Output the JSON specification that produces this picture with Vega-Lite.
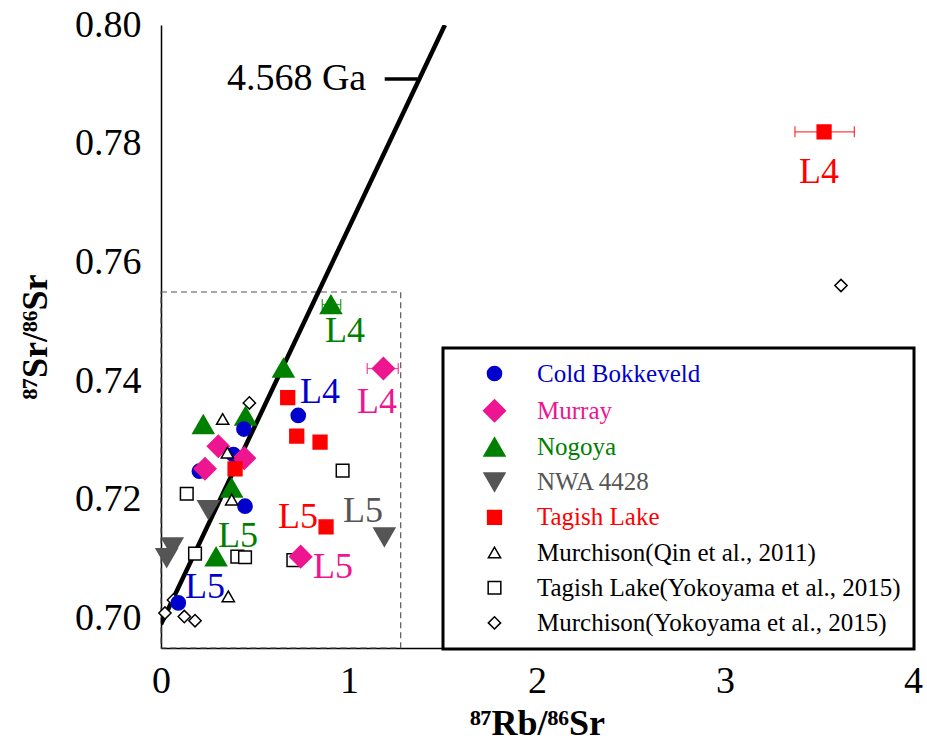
{
  "$schema": "https://vega.github.io/schema/vega-lite/v6.json",
  "width": 752,
  "height": 623,
  "autosize": {"type": "none"},
  "padding": {"left": 161, "top": 25, "right": 14, "bottom": 101},
  "background": "white",
  "config": {
    "view": {"stroke": null},
    "font": "Liberation Serif",
    "axis": {
      "grid": false,
      "domainColor": "black",
      "domainWidth": 1.5,
      "tickColor": "black",
      "tickWidth": 1.2,
      "tickSize": 0,
      "labelFont": "Liberation Serif",
      "labelFontSize": 38,
      "labelColor": "black",
      "labelFlush": false,
      "labelOverlap": false,
      "titleFont": "Liberation Serif",
      "titleFontWeight": "bold",
      "titleColor": "black",
      "titleFontSize": 36
    },
    "legend": {
      "strokeColor": "black",
      "strokeWidth": 3,
      "fillColor": "white",
      "padding": 13,
      "labelFont": "Liberation Serif",
      "labelFontSize": 25,
      "labelLimit": 600,
      "symbolStrokeWidth": 1.5,
      "symbolOpacity": 1,
      "rowPadding": 9.2,
      "labelColor": {"expr": "datum.value === 'Cold Bokkeveld' ? '#0000cc' : datum.value === 'Murray' ? '#ee1590' : datum.value === 'Nogoya' ? '#008000' : datum.value === 'NWA 4428' ? '#555555' : datum.value === 'Tagish Lake' ? '#ff0000' : '#000000'"}
    }
  },
  "datasets": {
    "points": [
      {"sample": "Murchison(Yokoyama et al., 2015)", "x": 0.470, "y": 0.7363},
      {"sample": "Murchison(Yokoyama et al., 2015)", "x": 0.066, "y": 0.7031},
      {"sample": "Murchison(Yokoyama et al., 2015)", "x": 0.021, "y": 0.7009},
      {"sample": "Murchison(Yokoyama et al., 2015)", "x": 0.124, "y": 0.7003},
      {"sample": "Murchison(Yokoyama et al., 2015)", "x": 0.181, "y": 0.6996},
      {"sample": "Murchison(Yokoyama et al., 2015)", "x": 3.617, "y": 0.7561},
      {"sample": "Tagish Lake(Yokoyama et al., 2015)", "x": 0.137, "y": 0.7210},
      {"sample": "Tagish Lake(Yokoyama et al., 2015)", "x": 0.181, "y": 0.7109},
      {"sample": "Tagish Lake(Yokoyama et al., 2015)", "x": 0.406, "y": 0.7104},
      {"sample": "Tagish Lake(Yokoyama et al., 2015)", "x": 0.447, "y": 0.7103},
      {"sample": "Tagish Lake(Yokoyama et al., 2015)", "x": 0.704, "y": 0.7098},
      {"sample": "Tagish Lake(Yokoyama et al., 2015)", "x": 0.966, "y": 0.7249},
      {"sample": "NWA 4428", "x": 0.252, "y": 0.7183},
      {"sample": "NWA 4428", "x": 0.060, "y": 0.7120},
      {"sample": "NWA 4428", "x": 0.030, "y": 0.7102},
      {"sample": "NWA 4428", "x": 1.188, "y": 0.7137},
      {"sample": "Nogoya", "x": 0.225, "y": 0.7327},
      {"sample": "Nogoya", "x": 0.450, "y": 0.7341},
      {"sample": "Nogoya", "x": 0.651, "y": 0.7422},
      {"sample": "Nogoya", "x": 0.376, "y": 0.7220},
      {"sample": "Nogoya", "x": 0.293, "y": 0.7104},
      {"sample": "Nogoya", "x": 0.904, "y": 0.7529},
      {"sample": "Cold Bokkeveld", "x": 0.204, "y": 0.7248},
      {"sample": "Cold Bokkeveld", "x": 0.385, "y": 0.7276},
      {"sample": "Cold Bokkeveld", "x": 0.441, "y": 0.7319},
      {"sample": "Cold Bokkeveld", "x": 0.447, "y": 0.7189},
      {"sample": "Cold Bokkeveld", "x": 0.730, "y": 0.7342},
      {"sample": "Cold Bokkeveld", "x": 0.092, "y": 0.7026},
      {"sample": "Murray", "x": 0.305, "y": 0.7290},
      {"sample": "Murray", "x": 0.234, "y": 0.7252},
      {"sample": "Murray", "x": 0.443, "y": 0.7270},
      {"sample": "Murray", "x": 0.743, "y": 0.7104},
      {"sample": "Murray", "x": 1.183, "y": 0.7421},
      {"sample": "Tagish Lake", "x": 0.394, "y": 0.7252},
      {"sample": "Tagish Lake", "x": 0.674, "y": 0.7372},
      {"sample": "Tagish Lake", "x": 0.722, "y": 0.7307},
      {"sample": "Tagish Lake", "x": 0.846, "y": 0.7297},
      {"sample": "Tagish Lake", "x": 0.878, "y": 0.7154},
      {"sample": "Tagish Lake", "x": 3.527, "y": 0.7820},
      {"sample": "Murchison(Qin et al., 2011)", "x": 0.328, "y": 0.7336},
      {"sample": "Murchison(Qin et al., 2011)", "x": 0.353, "y": 0.7279},
      {"sample": "Murchison(Qin et al., 2011)", "x": 0.376, "y": 0.7200},
      {"sample": "Murchison(Qin et al., 2011)", "x": 0.358, "y": 0.7037}
    ],
    "errs": [
      {"sample": "Nogoya", "xlo": 0.858, "xhi": 0.956, "y": 0.7529},
      {"sample": "Murray", "xlo": 1.097, "xhi": 1.262, "y": 0.7421},
      {"sample": "Tagish Lake", "xlo": 3.372, "xhi": 3.688, "y": 0.7820}
    ],
    "labels": [
      {"sample": "Nogoya", "text": "L4", "x": 0.979, "y": 0.7484},
      {"sample": "Cold Bokkeveld", "text": "L4", "x": 0.846, "y": 0.7381},
      {"sample": "Murray", "text": "L4", "x": 1.149, "y": 0.7364},
      {"sample": "Tagish Lake", "text": "L4", "x": 3.500, "y": 0.7752},
      {"sample": "NWA 4428", "text": "L5", "x": 1.074, "y": 0.7181},
      {"sample": "Tagish Lake", "text": "L5", "x": 0.729, "y": 0.7171},
      {"sample": "Murray", "text": "L5", "x": 0.915, "y": 0.7087},
      {"sample": "Nogoya", "text": "L5", "x": 0.410, "y": 0.7138},
      {"sample": "Cold Bokkeveld", "text": "L5", "x": 0.234, "y": 0.7053}
    ],
    "iso": [
      {"x": 0, "y": 0.6990},
      {"x": 1.51, "y": 0.8000}
    ],
    "tag": [
      {"x": 1.19, "x2": 1.365, "y": 0.7909, "text": "4.568 Ga", "tx": 0.721}
    ],
    "box": [
      {"x": 0, "x2": 1.275, "y": 0.695, "y2": 0.755}
    ]
  },
  "layer": [
    {
      "data": {"name": "box"},
      "mark": {"type": "rect", "filled": false, "stroke": "#555555", "strokeWidth": 1.2, "strokeDash": [6, 4]},
      "encoding": {
        "x": {
          "field": "x", "type": "quantitative",
          "scale": {"domain": [0, 4], "nice": false, "zero": false},
          "title": "⁸⁷Rb/⁸⁶Sr",
          "axis": {
            "values": [0, 0.5, 1, 1.5, 2, 2.5, 3, 3.5, 4],
            "labelExpr": "datum.value % 1 == 0 ? format(datum.value, 'd') : ''",
            "labelPadding": 14,
            "titlePadding": 6,
            "encode": {"ticks": {"update": {"y2": {"signal": "datum.value % 1 == 0 ? -10 : -5"}}}}
          }
        },
        "x2": {"field": "x2"},
        "y": {
          "field": "y", "type": "quantitative",
          "scale": {"domain": [0.695, 0.8], "nice": false, "zero": false},
          "title": "⁸⁷Sr/⁸⁶Sr",
          "axis": {
            "values": [0.70, 0.71, 0.72, 0.73, 0.74, 0.75, 0.76, 0.77, 0.78, 0.79, 0.80],
            "labelExpr": "round(datum.value * 100) % 2 == 0 ? format(datum.value, '.2f') : ''",
            "labelPadding": 20,
            "titlePadding": 20,
            "encode": {"ticks": {"update": {"x2": {"signal": "round(datum.value * 100) % 2 == 0 ? 10 : 5"}}}}
          }
        },
        "y2": {"field": "y2"}
      }
    },
    {
      "data": {"name": "iso"},
      "mark": {"type": "line", "color": "black", "strokeWidth": 4.5, "clip": true},
      "encoding": {
        "x": {"field": "x", "type": "quantitative", "title": "⁸⁷Rb/⁸⁶Sr"},
        "y": {"field": "y", "type": "quantitative", "title": "⁸⁷Sr/⁸⁶Sr"}
      }
    },
    {
      "data": {"name": "tag"},
      "mark": {"type": "rule", "color": "black", "strokeWidth": 3.5},
      "encoding": {
        "x": {"field": "x", "type": "quantitative", "title": "⁸⁷Rb/⁸⁶Sr"},
        "x2": {"field": "x2"},
        "y": {"field": "y", "type": "quantitative", "title": "⁸⁷Sr/⁸⁶Sr"}
      }
    },
    {
      "data": {"name": "tag"},
      "mark": {"type": "text", "color": "black", "fontSize": 38, "font": "Liberation Serif", "align": "center", "baseline": "middle"},
      "encoding": {
        "x": {"field": "tx", "type": "quantitative", "title": "⁸⁷Rb/⁸⁶Sr"},
        "y": {"field": "y", "type": "quantitative", "title": "⁸⁷Sr/⁸⁶Sr"},
        "text": {"field": "text"}
      }
    },
    {
      "data": {"name": "labels"},
      "mark": {"type": "text", "fontSize": 36, "font": "Liberation Serif", "align": "center", "baseline": "middle"},
      "encoding": {
        "x": {"field": "x", "type": "quantitative", "title": "⁸⁷Rb/⁸⁶Sr"},
        "y": {"field": "y", "type": "quantitative", "title": "⁸⁷Sr/⁸⁶Sr"},
        "text": {"field": "text"},
        "fill": {
          "field": "sample", "type": "nominal", "title": null,
          "legend": {"orient": "none", "legendX": 282, "legendY": 323, "symbolOffset": 26, "labelOffset": 30}
        }
      }
    },
    {
      "data": {"name": "errs"},
      "mark": {"type": "rule", "strokeWidth": 1.3, "opacity": 0.75},
      "encoding": {
        "x": {"field": "xlo", "type": "quantitative", "title": "⁸⁷Rb/⁸⁶Sr"},
        "x2": {"field": "xhi"},
        "y": {"field": "y", "type": "quantitative", "title": "⁸⁷Sr/⁸⁶Sr"},
        "stroke": {
          "field": "sample", "type": "nominal", "title": null,
          "legend": {"orient": "none", "legendX": 282, "legendY": 323, "symbolOffset": 26, "labelOffset": 30}
        }
      }
    },
    {
      "data": {"name": "errs"},
      "mark": {"type": "tick", "orient": "vertical", "size": 11, "thickness": 1.3, "opacity": 0.75},
      "encoding": {
        "x": {"field": "xlo", "type": "quantitative", "title": "⁸⁷Rb/⁸⁶Sr"},
        "y": {"field": "y", "type": "quantitative", "title": "⁸⁷Sr/⁸⁶Sr"},
        "fill": {
          "field": "sample", "type": "nominal", "title": null,
          "legend": {"orient": "none", "legendX": 282, "legendY": 323, "symbolOffset": 26, "labelOffset": 30}
        }
      }
    },
    {
      "data": {"name": "errs"},
      "mark": {"type": "tick", "orient": "vertical", "size": 11, "thickness": 1.3, "opacity": 0.75},
      "encoding": {
        "x": {"field": "xhi", "type": "quantitative", "title": "⁸⁷Rb/⁸⁶Sr"},
        "y": {"field": "y", "type": "quantitative", "title": "⁸⁷Sr/⁸⁶Sr"},
        "fill": {
          "field": "sample", "type": "nominal", "title": null,
          "legend": {"orient": "none", "legendX": 282, "legendY": 323, "symbolOffset": 26, "labelOffset": 30}
        }
      }
    },
    {
      "data": {"name": "points"},
      "mark": {"type": "point", "filled": true, "opacity": 1, "strokeWidth": 1.5},
      "encoding": {
        "x": {"field": "x", "type": "quantitative", "title": "⁸⁷Rb/⁸⁶Sr"},
        "y": {"field": "y", "type": "quantitative", "title": "⁸⁷Sr/⁸⁶Sr"},
        "shape": {
          "field": "sample", "type": "nominal", "title": null,
          "scale": {
            "domain": ["Cold Bokkeveld", "Murray", "Nogoya", "NWA 4428", "Tagish Lake", "Murchison(Qin et al., 2011)", "Tagish Lake(Yokoyama et al., 2015)", "Murchison(Yokoyama et al., 2015)"],
            "range": ["circle", "diamond", "triangle-up", "triangle-down", "square", "triangle-up", "square", "diamond"]
          },
          "legend": {"orient": "none", "legendX": 282, "legendY": 323, "symbolOffset": 26, "labelOffset": 30}
        },
        "fill": {
          "field": "sample", "type": "nominal", "title": null,
          "scale": {
            "domain": ["Cold Bokkeveld", "Murray", "Nogoya", "NWA 4428", "Tagish Lake", "Murchison(Qin et al., 2011)", "Tagish Lake(Yokoyama et al., 2015)", "Murchison(Yokoyama et al., 2015)"],
            "range": ["#0000cc", "#ee1590", "#008000", "#555555", "#ff0000", "white", "white", "white"]
          },
          "legend": {"orient": "none", "legendX": 282, "legendY": 323, "symbolOffset": 26, "labelOffset": 30}
        },
        "stroke": {
          "field": "sample", "type": "nominal", "title": null,
          "scale": {
            "domain": ["Cold Bokkeveld", "Murray", "Nogoya", "NWA 4428", "Tagish Lake", "Murchison(Qin et al., 2011)", "Tagish Lake(Yokoyama et al., 2015)", "Murchison(Yokoyama et al., 2015)"],
            "range": ["#0000cc", "#ee1590", "#008000", "#555555", "#ff0000", "black", "black", "black"]
          },
          "legend": {"orient": "none", "legendX": 282, "legendY": 323, "symbolOffset": 26, "labelOffset": 30}
        },
        "size": {
          "field": "sample", "type": "nominal", "title": null,
          "scale": {
            "type": "ordinal",
            "domain": ["Cold Bokkeveld", "Murray", "Nogoya", "NWA 4428", "Tagish Lake", "Murchison(Qin et al., 2011)", "Tagish Lake(Yokoyama et al., 2015)", "Murchison(Yokoyama et al., 2015)"],
            "range": [200, 480, 440, 440, 190, 150, 160, 150]
          },
          "legend": {"orient": "none", "legendX": 282, "legendY": 323, "symbolOffset": 26, "labelOffset": 30}
        }
      }
    }
  ]
}
